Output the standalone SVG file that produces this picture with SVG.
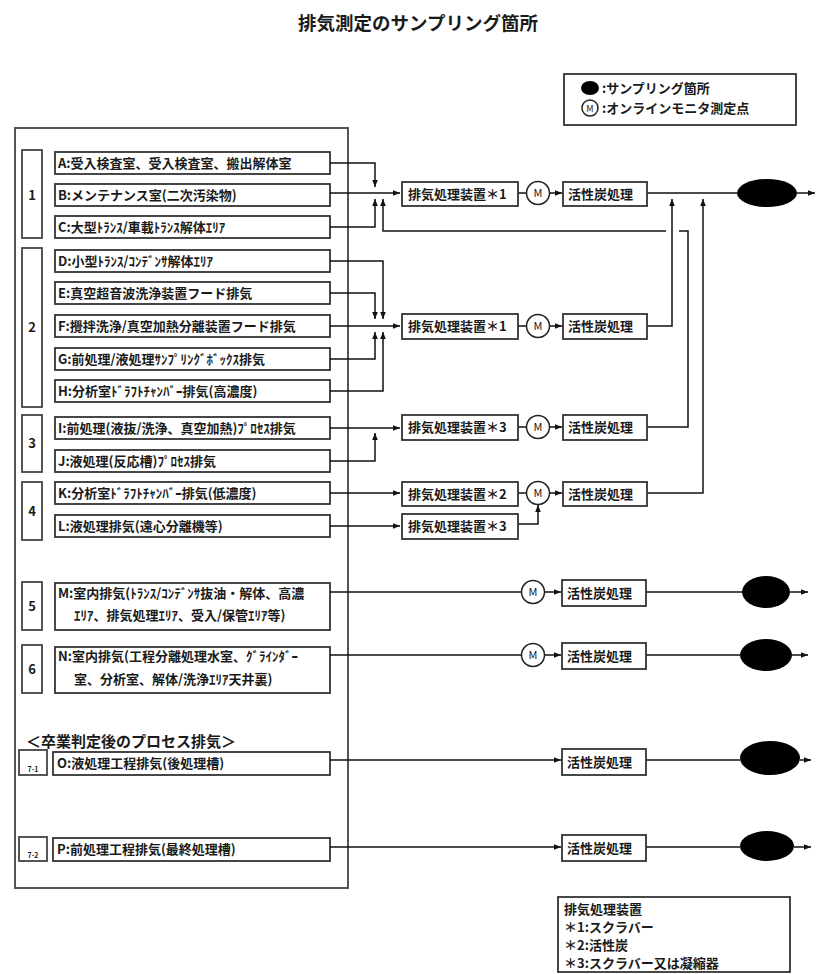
<svg xmlns="http://www.w3.org/2000/svg" width="821" height="974" viewBox="0 0 821 974">
<style>
text{font-family:"Noto Sans CJK JP","Noto Sans CJK SC",sans-serif;fill:#1a1a1a;font-weight:bold}
.t{font-size:13px}
.n{font-size:13px;text-anchor:middle}
.p{font-size:13px}
.box{fill:#fff;stroke:#333;stroke-width:1.8}
.grp{fill:#fff;stroke:#444;stroke-width:1.8}
.c{fill:none;stroke:#111;stroke-width:1.5}
.a{marker-end:url(#ah)}
.mon{fill:#fff;stroke:#222;stroke-width:1.5}
.mt{font-size:11px;text-anchor:middle;font-weight:normal}
.sp{fill:#000}
</style>
<defs>
<marker id="ah" viewBox="0 0 10 10" refX="10" refY="5" markerWidth="7" markerHeight="7" markerUnits="userSpaceOnUse" orient="auto"><path d="M0,1 L10,5 L0,9 z" fill="#111"/></marker>
</defs>
<rect width="821" height="974" fill="#fff"/>
<text x="418" y="30" style="font-size:18.5px" text-anchor="middle">排気測定のサンプリング箇所</text>

<g id="legend-top">
<rect x="564" y="74" width="232" height="51" class="box"/>
<ellipse cx="590" cy="88" rx="9" ry="7" class="sp"/>
<text x="602" y="93" class="p">:サンプリング箇所</text>
<circle cx="590" cy="108" r="8" class="mon"/>
<text x="590" y="112" class="mt" style="font-size:9px">M</text>
<text x="602" y="113" class="p">:オンラインモニタ測定点</text>
</g>

<g id="outer"><rect x="15" y="128" width="333" height="760" fill="none" stroke="#555" stroke-width="2"/></g>

<g id="group1">
<rect x="22" y="150" width="20" height="88" class="grp"/><text x="32" y="200" class="n">1</text>
<g id="A"><rect x="55" y="152" width="275" height="22" class="box"/><text x="58" y="168" class="t">A:受入検査室、受入検査室、搬出解体室</text></g>
<g id="B"><rect x="55" y="184" width="275" height="22" class="box"/><text x="58" y="200" class="t">B:メンテナンス室(二次汚染物)</text></g>
<g id="C"><rect x="55" y="216" width="275" height="22" class="box"/><text x="58" y="232" class="t">C:大型ﾄﾗﾝｽ/車載ﾄﾗﾝｽ解体ｴﾘｱ</text></g>
</g>

<g id="group2">
<rect x="22" y="248" width="20" height="159" class="grp"/><text x="32" y="332" class="n">2</text>
<g id="D"><rect x="55" y="250" width="275" height="22" class="box"/><text x="58" y="266" class="t">D:小型ﾄﾗﾝｽ/ｺﾝﾃﾞﾝｻ解体ｴﾘｱ</text></g>
<g id="E"><rect x="55" y="282" width="275" height="22" class="box"/><text x="58" y="298" class="t">E:真空超音波洗浄装置フード排気</text></g>
<g id="F"><rect x="55" y="315" width="275" height="22" class="box"/><text x="58" y="331" class="t">F:攪拌洗浄/真空加熱分離装置フード排気</text></g>
<g id="G"><rect x="55" y="348" width="275" height="22" class="box"/><text x="58" y="364" class="t">G:前処理/液処理ｻﾝﾌﾟﾘﾝｸﾞﾎﾞｯｸｽ排気</text></g>
<g id="H"><rect x="55" y="380" width="275" height="22" class="box"/><text x="58" y="396" class="t">H:分析室ﾄﾞﾗﾌﾄﾁｬﾝﾊﾞｰ排気(高濃度)</text></g>
</g>

<g id="group3">
<rect x="22" y="415" width="20" height="57" class="grp"/><text x="32" y="448" class="n">3</text>
<g id="I"><rect x="55" y="417" width="275" height="22" class="box"/><text x="58" y="433" class="t">I:前処理(液抜/洗浄、真空加熱)ﾌﾟﾛｾｽ排気</text></g>
<g id="J"><rect x="55" y="450" width="275" height="22" class="box"/><text x="58" y="466" class="t">J:液処理(反応槽)ﾌﾟﾛｾｽ排気</text></g>
</g>

<g id="group4">
<rect x="22" y="482" width="20" height="58" class="grp"/><text x="32" y="516" class="n">4</text>
<g id="K"><rect x="55" y="482" width="275" height="22" class="box"/><text x="58" y="498" class="t">K:分析室ﾄﾞﾗﾌﾄﾁｬﾝﾊﾞｰ排気(低濃度)</text></g>
<g id="L"><rect x="55" y="515" width="275" height="22" class="box"/><text x="58" y="531" class="t">L:液処理排気(遠心分離機等)</text></g>
</g>

<g id="group5">
<rect x="22" y="582" width="20" height="48" class="grp"/><text x="32" y="611" class="n">5</text>
<g id="M"><rect x="55" y="583" width="275" height="47" class="box"/>
<text x="58" y="598" class="t">M:室内排気(ﾄﾗﾝｽ/ｺﾝﾃﾞﾝｻ抜油・解体、高濃</text>
<text x="74" y="620" class="t">ｴﾘｱ、排気処理ｴﾘｱ、受入/保管ｴﾘｱ等)</text></g>
</g>

<g id="group6">
<rect x="22" y="645" width="20" height="48" class="grp"/><text x="32" y="674" class="n">6</text>
<g id="N"><rect x="55" y="647" width="275" height="46" class="box"/>
<text x="58" y="661" class="t">N:室内排気(工程分離処理水室、ｸﾞﾗｲﾝﾀﾞｰ</text>
<text x="74" y="684" class="t">室、分析室、解体/洗浄ｴﾘｱ天井裏)</text></g>
</g>

<text x="26" y="747" style="font-size:15px">＜卒業判定後のプロセス排気＞</text>
<g id="group7-1">
<rect x="19" y="750" width="28" height="25" class="grp"/><text x="33" y="772" style="font-size:7px" text-anchor="middle">7-1</text>
<g id="O"><rect x="53" y="752" width="277" height="23" class="box"/><text x="57" y="768" class="t">O:液処理工程排気(後処理槽)</text></g>
</g>
<g id="group7-2">
<rect x="19" y="837" width="28" height="24" class="grp"/><text x="33" y="858" style="font-size:7px" text-anchor="middle">7-2</text>
<g id="P"><rect x="53" y="838" width="277" height="23" class="box"/><text x="57" y="854" class="t">P:前処理工程排気(最終処理槽)</text></g>
</g>

<g id="connectors">
<path class="c a" d="M330,163 H375 V187"/>
<path class="c a" d="M330,227 H375 V199"/>
<path class="c a" d="M330,193 H400"/>
<path class="c" d="M518,193 H526.5"/>
<path class="c a" d="M549.5,193 H562"/>
<path class="c" d="M647,193 H737"/>
<path class="c a" d="M797,193 H815"/>
<path class="c a" d="M647,326 H672 V199"/>
<path class="c" d="M647,427 H688 V231 H679"/>
<path class="c a" d="M666,231 H383 V199"/>
<path class="c a" d="M647,493 H703 V199"/>
<path class="c a" d="M330,261 H383 V319"/>
<path class="c a" d="M330,293 H375 V319"/>
<path class="c a" d="M330,326 H400"/>
<path class="c a" d="M330,359 H375 V332"/>
<path class="c a" d="M330,391 H383 V332"/>
<path class="c" d="M518,326 H526.5"/>
<path class="c a" d="M549.5,326 H562"/>
<path class="c a" d="M330,428 H400"/>
<path class="c a" d="M330,461 H375 V433"/>
<path class="c" d="M518,427 H526.5"/>
<path class="c a" d="M549.5,427 H562"/>
<path class="c a" d="M330,493 H400"/>
<path class="c a" d="M330,526 H400"/>
<path class="c" d="M518,493 H526.5"/>
<path class="c a" d="M549.5,493 H562"/>
<path class="c a" d="M518,524 H538 V505"/>
<path class="c" d="M330,592 H521.5"/>
<path class="c a" d="M544.5,592 H561"/>
<path class="c" d="M646,592 H742"/>
<path class="c a" d="M790,592 H808"/>
<path class="c" d="M330,655 H521.5"/>
<path class="c a" d="M544.5,655 H561"/>
<path class="c" d="M646,655 H740"/>
<path class="c a" d="M792,655 H808"/>
<path class="c a" d="M330,760 H561"/>
<path class="c" d="M646,760 H740"/>
<path class="c a" d="M800,760 H811"/>
<path class="c a" d="M330,847 H561"/>
<path class="c" d="M646,847 H740"/>
<path class="c a" d="M794,847 H811"/>
</g>

<g id="proc1">
<rect x="402" y="182" width="116" height="24" class="box"/><text x="408" y="199" class="p">排気処理装置＊1</text>
<circle cx="538" cy="193" r="11.5" class="mon"/><text x="538" y="197" class="mt">M</text>
<rect x="563" y="182" width="84" height="24" class="box"/><text x="568" y="199" class="p">活性炭処理</text>
<ellipse cx="767" cy="193" rx="30" ry="14" class="sp"/>
</g>
<g id="proc2">
<rect x="402" y="314" width="116" height="25" class="box"/><text x="408" y="331" class="p">排気処理装置＊1</text>
<circle cx="538" cy="326" r="11.5" class="mon"/><text x="538" y="330" class="mt">M</text>
<rect x="563" y="314" width="84" height="25" class="box"/><text x="568" y="331" class="p">活性炭処理</text>
</g>
<g id="proc3">
<rect x="402" y="415" width="116" height="25" class="box"/><text x="408" y="432" class="p">排気処理装置＊3</text>
<circle cx="538" cy="427" r="11.5" class="mon"/><text x="538" y="431" class="mt">M</text>
<rect x="563" y="415" width="84" height="25" class="box"/><text x="568" y="432" class="p">活性炭処理</text>
</g>
<g id="proc4">
<rect x="402" y="482" width="116" height="24" class="box"/><text x="408" y="499" class="p">排気処理装置＊2</text>
<rect x="402" y="514" width="116" height="25" class="box"/><text x="408" y="531" class="p">排気処理装置＊3</text>
<circle cx="538" cy="493" r="11.5" class="mon"/><text x="538" y="497" class="mt">M</text>
<rect x="563" y="482" width="84" height="24" class="box"/><text x="568" y="499" class="p">活性炭処理</text>
</g>
<g id="proc5">
<circle cx="533" cy="592" r="11.5" class="mon"/><text x="533" y="596" class="mt">M</text>
<rect x="562" y="580" width="84" height="26" class="box"/><text x="567" y="598" class="p">活性炭処理</text>
<ellipse cx="766" cy="592" rx="24" ry="16" class="sp"/>
</g>
<g id="proc6">
<circle cx="533" cy="655" r="11.5" class="mon"/><text x="533" y="659" class="mt">M</text>
<rect x="562" y="643" width="84" height="26" class="box"/><text x="567" y="661" class="p">活性炭処理</text>
<ellipse cx="766" cy="655" rx="26" ry="16" class="sp"/>
</g>
<g id="proc7-1">
<rect x="562" y="749" width="84" height="26" class="box"/><text x="567" y="767" class="p">活性炭処理</text>
<ellipse cx="770" cy="758" rx="30" ry="17" class="sp"/>
</g>
<g id="proc7-2">
<rect x="562" y="835" width="84" height="26" class="box"/><text x="567" y="853" class="p">活性炭処理</text>
<ellipse cx="767" cy="846" rx="27" ry="15" class="sp"/>
</g>

<g id="legend-bottom">
<rect x="558" y="897" width="232" height="75" class="box"/>
<text x="564" y="914" class="p">排気処理装置</text>
<text x="564" y="932" class="p">＊1:スクラバー</text>
<text x="564" y="950" class="p">＊2:活性炭</text>
<text x="564" y="968" class="p">＊3:スクラバー又は凝縮器</text>
</g>
</svg>
